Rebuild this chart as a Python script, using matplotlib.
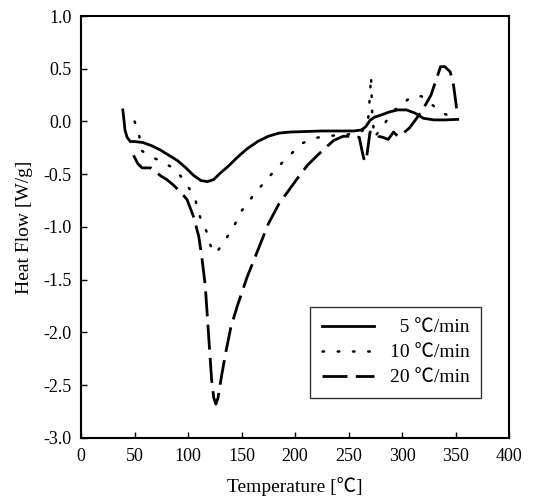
import numpy as np
import matplotlib
matplotlib.use("Agg")
import matplotlib.pyplot as plt

plt.rcParams['font.family'] = ['Liberation Serif', 'Noto Sans CJK JP', 'DejaVu Sans']
plt.rcParams['axes.unicode_minus'] = False

# 5 C/min (solid)
T5 = [39, 40, 41, 43, 46, 50, 58, 66, 74, 82, 90, 98, 105, 112, 118, 124, 130, 138, 146,
      155, 165, 175, 185, 195, 210, 225, 240, 255, 262, 266, 270, 274, 280, 288, 296, 304,
      312, 320, 330, 340, 352]
H5 = [0.11, 0.02, -0.08, -0.15, -0.19, -0.19, -0.20, -0.23, -0.27, -0.32, -0.37, -0.44,
      -0.51, -0.56, -0.57, -0.55, -0.49, -0.42, -0.34, -0.26, -0.19, -0.14, -0.11, -0.10,
      -0.095, -0.09, -0.09, -0.09, -0.08, -0.05, 0.01, 0.04, 0.06, 0.09, 0.11, 0.11, 0.08,
      0.03, 0.015, 0.015, 0.02]

# 10 C/min (dotted)
T10 = [50, 52, 54, 57, 65, 75, 86, 95, 102, 107, 111, 114, 117.5, 120, 124, 128, 132, 138,
       144, 149, 156, 164, 173, 182, 190, 198, 206, 217, 228, 240, 252, 262, 268, 270, 271,
       272, 274, 278, 285, 292, 300, 310, 318, 325, 332, 340, 350]
H10 = [0.0, -0.05, -0.12, -0.28, -0.33, -0.38, -0.44, -0.54, -0.65, -0.75, -0.90, -0.97,
       -1.05, -1.15, -1.25, -1.22, -1.17, -1.07, -0.97, -0.86, -0.77, -0.66, -0.56, -0.45,
       -0.37, -0.29, -0.21, -0.16, -0.14, -0.13, -0.12, -0.10, -0.02, 0.25, 0.43, 0.10,
       -0.15, -0.10, 0.0, 0.10, 0.17, 0.24, 0.24, 0.18, 0.13, 0.07, 0.04]

# 20 C/min (dashed)
T20 = [49, 53, 57, 61, 65, 70, 75, 80, 86, 93, 99, 105, 110, 113, 116, 118, 120, 122, 124,
       126, 128, 131, 135, 140, 146, 155, 166, 175, 185, 195, 205, 212, 222, 236, 245, 255,
       260, 263, 265, 267, 270, 274, 278, 282, 287, 292, 296, 300, 307, 315, 322, 327, 332,
       336, 340, 345, 348, 350, 351]
H20 = [-0.32, -0.40, -0.44, -0.44, -0.44, -0.48, -0.52, -0.55, -0.60, -0.67, -0.74, -0.90,
       -1.09, -1.30, -1.55, -1.85, -2.15, -2.45, -2.62, -2.68, -2.62, -2.43, -2.20, -1.95,
       -1.75, -1.48, -1.20, -0.97, -0.78, -0.64, -0.50, -0.41, -0.31, -0.18, -0.14, -0.14,
       -0.15, -0.30, -0.38, -0.33, -0.10, -0.10, -0.14, -0.15, -0.17, -0.10, -0.14, -0.12,
       -0.06, 0.05, 0.16, 0.25, 0.40, 0.52, 0.52, 0.47, 0.35, 0.20, 0.12]

fig = plt.figure(figsize=(5.37, 5.01), dpi=100)
ax = fig.add_axes([0.151, 0.126, 0.797, 0.842])

ax.plot(T5, H5, color="k", lw=2.0, label="  5 \u2103/min")
ax.plot(T10, H10, color="k", lw=1.8, linestyle=(0, (0.6, 5.5)), dash_capstyle="round",
        label="10 \u2103/min")
ax.plot(T20, H20, color="k", lw=2.0, linestyle=(0, (9, 3)), label="20 \u2103/min")

ax.set_xlim(0, 400)
ax.set_ylim(-3.0, 1.0)
ax.set_xticks(np.arange(0, 401, 50))
ax.set_yticks(np.arange(-3.0, 1.01, 0.5))
ax.set_yticklabels(["%.1f" % v for v in np.arange(-3.0, 1.01, 0.5)])
ax.tick_params(direction="in", length=4, width=1, labelsize=13, pad=7)
for s in ax.spines.values():
    s.set_linewidth(1.5)

ax.set_xlabel("Temperature [\u2103]", fontsize=14, labelpad=9)
ax.set_ylabel("Heat Flow [W/g]", fontsize=14, labelpad=7)

leg = ax.legend(loc="upper right", bbox_to_anchor=(0.935, 0.31), fontsize=14,
                frameon=True, fancybox=False, edgecolor="k", handlelength=2.7,
                borderpad=0.6, labelspacing=0.38, handletextpad=0.8, borderaxespad=0)
leg.get_frame().set_linewidth(1.0)

fig.savefig("out.png", dpi=100)
